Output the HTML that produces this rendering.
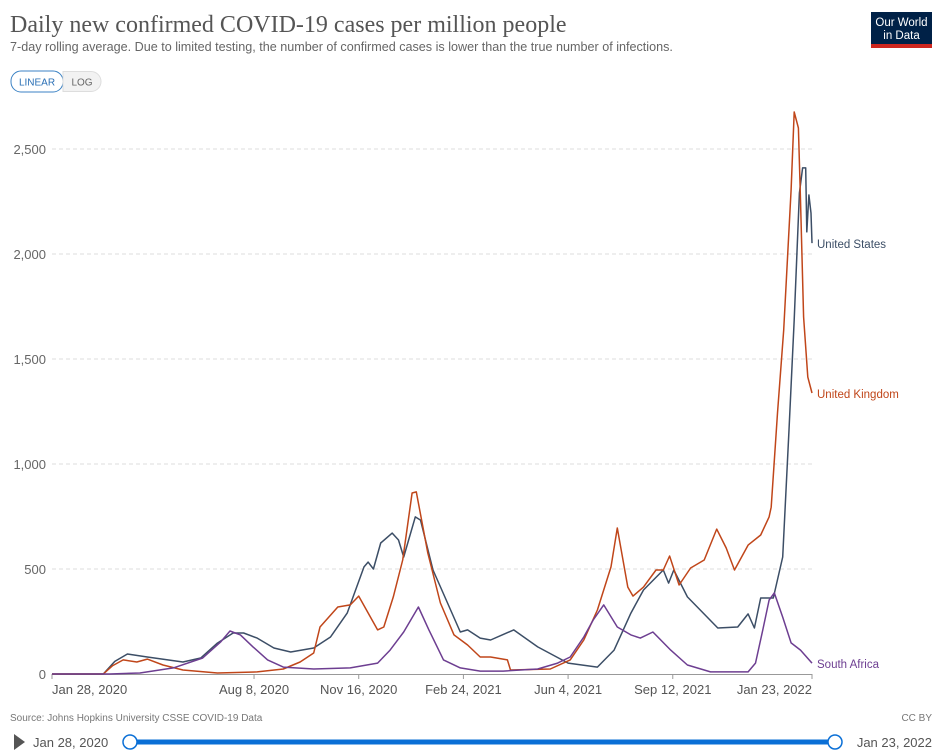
<!DOCTYPE html>
<html><head><meta charset="utf-8">
<style>
body{margin:0;background:#fff;width:943px;height:755px;overflow:hidden;font-family:"Liberation Sans",sans-serif;}
svg{display:block}
</style></head>
<body>
<svg width="943" height="755" viewBox="0 0 943 755" xmlns="http://www.w3.org/2000/svg">
<text x="10" y="32" font-family="Liberation Serif, serif" font-size="24" fill="#555">Daily new confirmed COVID-19 cases per million people</text>
<text x="10" y="51" font-size="12.6" fill="#666">7-day rolling average. Due to limited testing, the number of confirmed cases is lower than the true number of infections.</text>
<g>
<rect x="871" y="12" width="61" height="33" fill="#002147"/>
<rect x="871" y="44" width="61" height="4" fill="#ce261e"/>
<text x="901.5" y="26" font-size="11.5" fill="#fff" text-anchor="middle">Our World</text>
<text x="901.5" y="39" font-size="11.5" fill="#fff" text-anchor="middle">in Data</text>
</g>
<g>
<rect x="11" y="71" width="52" height="21" rx="10" fill="#fff" stroke="#3b82c4"/>
<text x="37" y="85.5" font-size="10" fill="#2a6fb5" text-anchor="middle">LINEAR</text>
</g>
<g>
<path d="M63 71.5 H91 a10 10 0 0 1 0 20 H63 Z" fill="#f2f2f2" stroke="#ddd"/>
<text x="82" y="85.5" font-size="10" fill="#666" text-anchor="middle">LOG</text>
</g>
<g id="grid"></g>
<g id="axis"></g>
<g id="series"></g>
<text x="10" y="721" font-size="10" fill="#777">Source: Johns Hopkins University CSSE COVID-19 Data</text>
<text x="932" y="721" font-size="10" fill="#777" text-anchor="end">CC BY</text>
<path d="M14 734 L25 742 L14 750 Z" fill="#555"/>
<text x="33" y="747" font-size="13" fill="#555">Jan 28, 2020</text>
<rect x="130" y="739.5" width="705" height="5" fill="#0a6fd6"/>
<circle cx="130" cy="742" r="7" fill="#fff" stroke="#0a6fd6" stroke-width="1.5"/>
<circle cx="835" cy="742" r="7" fill="#fff" stroke="#0a6fd6" stroke-width="1.5"/>
<text x="932" y="747" font-size="13" fill="#555" text-anchor="end">Jan 23, 2022</text>
</svg>
<script>
const yTicks=[0,500,1000,1500,2000,2500];
const xTickDays=[0,193,293,393,493,593,726];
const xTickLabels=["Jan 28, 2020","Aug 8, 2020","Nov 16, 2020","Feb 24, 2021","Jun 4, 2021","Sep 12, 2021","Jan 23, 2022"];
const seriesNames=["United States","United Kingdom","South Africa"];
const usDays=[0,49,60,72,91,125,142,158,173,183,196,212,228,250,266,282,298,302,307,314,325,331,336,347,352,364,390,397,409,419,441,464,493,521,537,553,565,584,589,594,607,636,655,665,671,677,689,698,704,709,714,717,720,721,723,725,726];
const usVals=[0,0,60,95,81,57,76,147,195,195,171,124,105,124,176,290,510,533,500,624,671,638,557,748,733,495,200,210,171,162,210,129,52,33,114,290,400,495,433,495,367,219,224,286,219,362,362,557,1162,1686,2290,2410,2410,2105,2281,2195,2052];
const ukDays=[0,49,58,68,81,91,106,125,158,196,221,237,250,256,273,285,293,311,317,326,335,344,348,359,371,384,397,409,419,435,438,476,495,508,521,534,540,550,555,565,577,584,590,599,610,623,635,644,652,665,677,685,687,693,699,706,709,713,715,718,722,726];
const ukVals=[0,0,40,67,57,71,43,19,5,10,24,57,100,224,319,329,371,210,224,367,543,862,867,576,338,186,138,81,81,67,19,24,67,162,305,510,695,414,371,414,495,495,562,424,505,543,690,600,495,614,662,748,795,1243,1638,2305,2676,2600,2257,1700,1414,1338];
const zaDays=[0,55,84,116,144,161,170,180,192,206,221,250,285,311,323,336,350,360,374,390,409,431,464,483,495,508,517,527,540,553,562,574,591,607,629,665,672,679,685,690,698,706,715,725,726];
const zaVals=[0,0,5,29,76,152,205,186,129,67,33,24,29,52,114,200,319,210,67,29,14,14,24,52,81,176,257,329,224,186,171,200,114,43,10,10,52,210,352,386,271,148,114,57,52];
const colors=["#3c4e66","#c0461a","#6d3e91"];
const X0=52,X1=812,Y0=674,Y1=149,DMAX=726,VMAX=2500;
const xs=d=>X0+d*(X1-X0)/DMAX;
const ys=v=>Y0-v*(Y0-Y1)/VMAX;
const NS="http://www.w3.org/2000/svg";
function mk(t,a,p){const e=document.createElementNS(NS,t);for(const k in a)e.setAttribute(k,a[k]);p.appendChild(e);return e;}
const grid=document.getElementById('grid'),axis=document.getElementById('axis'),ser=document.getElementById('series');
yTicks.forEach(v=>{
  if(v>0){const l=mk('line',{x1:X0,x2:X1,y1:ys(v),y2:ys(v),stroke:'#ddd','stroke-dasharray':'4,3'},grid);
  
  }
  const t=mk('text',{x:46,y:ys(v)+5,'font-size':13,fill:'#666','text-anchor':'end'},axis);
  t.textContent=v.toLocaleString('en-US');
  
  
});
const ax=mk('line',{x1:X0,x2:X1,y1:Y0+0.5,y2:Y0+0.5,stroke:'#999'},axis);


xTickDays.forEach((d,i)=>{
  const tk=mk('line',{x1:xs(d),x2:xs(d),y1:Y0,y2:Y0+5,stroke:'#999'},axis);
  
  
  const anchor=i===0?'start':(i===xTickDays.length-1?'end':'middle');
  const t=mk('text',{x:xs(d),y:Y0+20,'font-size':13,fill:'#555','text-anchor':anchor},axis);
  t.textContent=xTickLabels[i];
  
  
});
const data=[[usDays,usVals],[ukDays,ukVals],[zaDays,zaVals]];
const slugs=["united-states","united-kingdom","south-africa"];
data.forEach(([ds,vs],i)=>{
  const dstr=ds.map((d,j)=>(j?'L':'M')+xs(d).toFixed(1)+' '+ys(vs[j]).toFixed(1)).join(' ');
  const p=mk('path',{d:dstr,fill:'none',stroke:colors[i],'stroke-width':1.5,'stroke-linejoin':'round'},ser);
  
  
  const last=vs[vs.length-1];
  const t=mk('text',{x:817,y:ys(last)+5,'font-size':11.5,fill:colors[i]},ser);
  t.textContent=seriesNames[i];
  
  
});
</script>
</body></html>
